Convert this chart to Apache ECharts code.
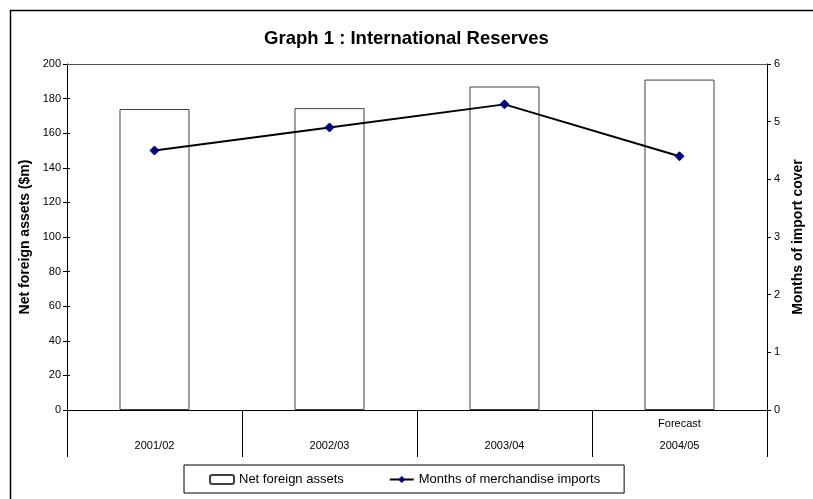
<!DOCTYPE html>
<html>
<head>
<meta charset="utf-8">
<script src="https://cdn.jsdelivr.net/npm/echarts@6/dist/echarts.min.js"></script>
<style>
  html, body { margin: 0; padding: 0; background: #fff; }
  #chart { width: 813px; height: 499px; }
</style>
</head>
<body>
<div id="chart"></div>
<script>
// Fiscal years and the note printed above each year label
const years = ['2001/02', '2002/03', '2003/04', '2004/05'];
const yearNotes = ['', '', '', 'Forecast'];

// Net foreign assets, $m (left axis)
const netForeignAssets = [174, 174.5, 187, 191];
// Months of merchandise import cover (right axis)
const monthsOfImports = [4.5, 4.9, 5.3, 4.4];

// Axis tick ranges
const assetsTicks = { min: 0, max: 200, interval: 20 };
const monthsTicks = { min: 0, max: 6, interval: 1 };

const FONT = '"Liberation Sans", Arial, sans-serif';
const GRID = { left: 67, right: 34, top: 64, bottom: 89, containLabel: false };

const chart = echarts.init(document.getElementById('chart'), null, { renderer: 'canvas' });

chart.setOption({
  animation: false,
  backgroundColor: '#fff',
  textStyle: { fontFamily: FONT, color: '#000' },
  title: {
    text: 'Graph 1 : International Reserves',
    left: 'center',
    top: 24,
    textStyle: { fontFamily: FONT, fontSize: 18.5, fontWeight: 'bold', color: '#000' }
  },
  // chart frame (left and top edges)
  graphic: [{
    type: 'polyline',
    shape: { points: [[10.5, 499], [10.5, 10.5], [813, 10.5]] },
    style: { fill: null, stroke: '#000', lineWidth: 1.5 },
    silent: true
  }],
  legend: {
    left: 184,
    top: 465,
    padding: [8, 24, 7, 25],
    itemGap: 45,
    itemWidth: 24,
    itemHeight: 9,
    borderColor: '#000',
    borderWidth: 1,
    textStyle: { fontFamily: FONT, fontSize: 13, color: '#000' },
    data: ['Net foreign assets', 'Months of merchandise imports']
  },
  grid: [GRID, Object.assign({}, GRID)],
  xAxis: [{
    type: 'category',
    data: years,
    boundaryGap: true,
    axisLine: { lineStyle: { color: '#000', width: 1 } },
    axisTick: { show: true, interval: 0, length: 47, alignWithLabel: false, lineStyle: { color: '#000' } },
    axisLabel: {
      interval: 0,
      margin: 3,
      formatter: (v, i) => '{n|' + (yearNotes[i] || '\u00a0') + '}\n{y|' + v + '}',
      rich: {
        n: { fontFamily: FONT, fontSize: 11, lineHeight: 22, color: '#000' },
        y: { fontFamily: FONT, fontSize: 11, lineHeight: 22, color: '#000' }
      }
    },
    splitLine: { show: false }
  }, {
    type: 'category',
    gridIndex: 1,
    data: years,
    show: false
  }],
  yAxis: [{
    type: 'value',
    position: 'left',
    min: assetsTicks.min,
    max: assetsTicks.max,
    interval: assetsTicks.interval,
    name: 'Net foreign assets ($m)',
    nameLocation: 'middle',
    nameRotate: 90,
    nameGap: 35,
    nameTextStyle: { fontFamily: FONT, fontSize: 14, fontWeight: 'bold', color: '#000' },
    axisLine: { show: true, lineStyle: { color: '#000', width: 1 } },
    axisTick: { show: true, length: 4, lineStyle: { color: '#000' } },
    axisLabel: { margin: 6, fontFamily: FONT, fontSize: 11, color: '#000' },
    splitLine: { show: false }
  }, {
    type: 'value',
    position: 'right',
    min: monthsTicks.min,
    max: monthsTicks.max,
    interval: monthsTicks.interval,
    name: 'Months of import cover',
    nameLocation: 'middle',
    nameRotate: 90,
    nameGap: 22,
    nameTextStyle: { fontFamily: FONT, fontSize: 14, fontWeight: 'bold', color: '#000' },
    axisLine: { show: true, lineStyle: { color: '#000', width: 1 } },
    axisTick: { show: true, length: 4, lineStyle: { color: '#000' } },
    axisLabel: { margin: 7, fontFamily: FONT, fontSize: 11, color: '#000' },
    splitLine: { show: false }
  }, {
    // inner half of the cross-style ticks on the left axis
    type: 'value',
    gridIndex: 1,
    position: 'left',
    min: assetsTicks.min,
    max: assetsTicks.max,
    interval: assetsTicks.interval,
    axisLine: { show: false },
    axisTick: { show: true, inside: true, length: 3, lineStyle: { color: '#000' } },
    axisLabel: { show: false },
    splitLine: { show: false }
  }],
  series: [{
    name: 'Net foreign assets',
    type: 'bar',
    yAxisIndex: 0,
    data: netForeignAssets,
    barWidth: 70,
    itemStyle: { color: '#fff', borderColor: '#404040', borderWidth: 1 },
    // top edge of the plot area
    markLine: {
      silent: true,
      symbol: 'none',
      label: { show: false },
      lineStyle: { color: '#555', width: 1, type: 'solid' },
      data: [{ yAxis: assetsTicks.max }]
    }
  }, {
    name: 'Months of merchandise imports',
    type: 'line',
    yAxisIndex: 1,
    data: monthsOfImports,
    symbol: 'diamond',
    symbolSize: 9,
    lineStyle: { color: '#000', width: 2 },
    itemStyle: { color: '#000080', borderColor: '#000080' },
    z: 5
  }]
});
</script>
</body>
</html>
